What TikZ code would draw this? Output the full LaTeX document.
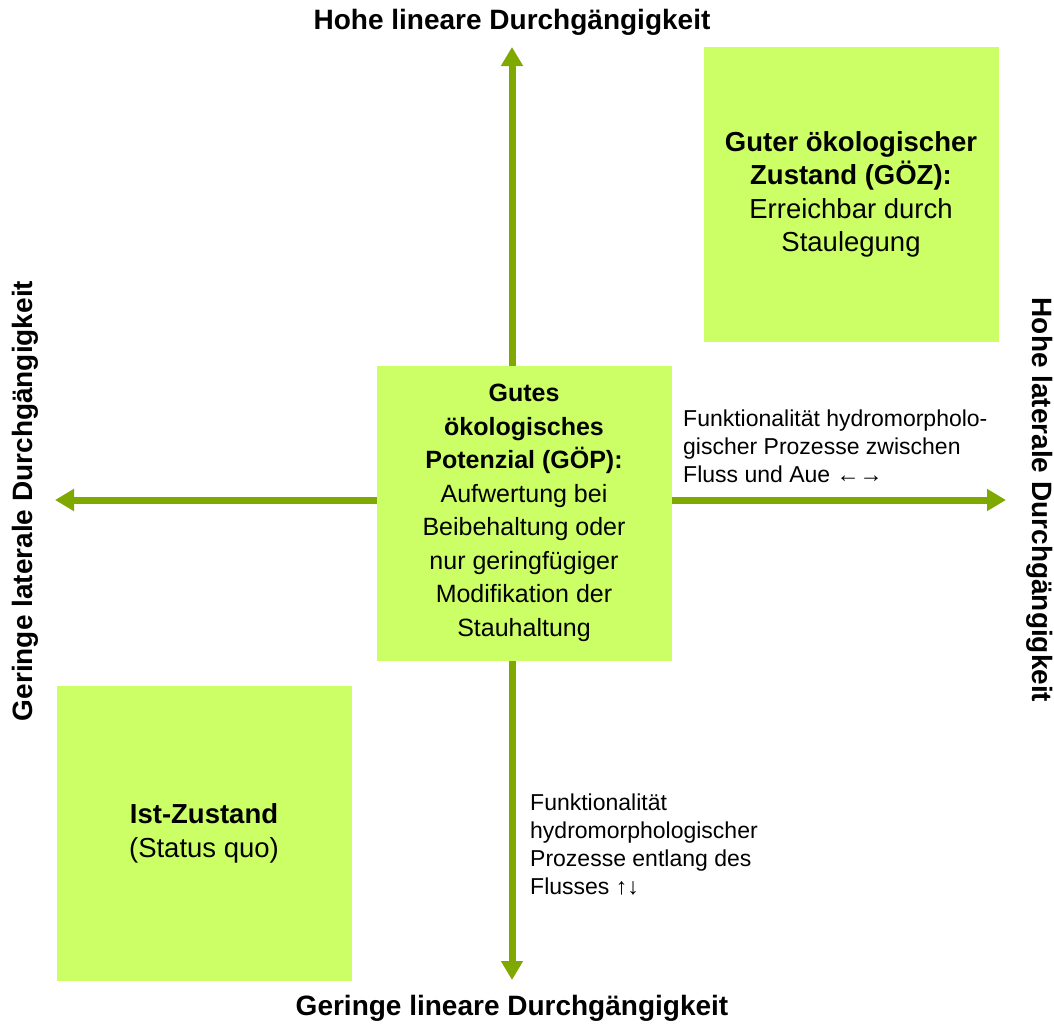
\documentclass[tikz,border=0pt]{standalone}
\usepackage{fontspec}
\setmainfont{Liberation Sans}
\usetikzlibrary{arrows.meta}
\definecolor{axisgreen}{RGB}{127,168,0}
\definecolor{boxgreen}{RGB}{204,255,102}
\tikzset{
  axis/.style={draw=axisgreen, line width=7pt,
    {Triangle[width=21pt,length=19pt]}-{Triangle[width=21pt,length=19pt]}},
  field/.style={fill=boxgreen, draw=none, minimum width=295pt, minimum height=295pt,
    align=center, inner sep=0pt, font=\fontsize{27.5}{33.5}\selectfont},
  axislabel/.style={font=\fontsize{28}{32}\selectfont\bfseries, inner sep=0pt},
  note/.style={font=\fontsize{23}{28}\selectfont, align=left, inner sep=0pt, anchor=north west}
}
\begin{document}
\begin{tikzpicture}[x=1pt, y=-1pt]
  \useasboundingbox (0,0) rectangle (1054,1026);
  % axis end points
  \coordinate (ytop) at (512,47);
  \coordinate (ybot) at (512,980);
  \coordinate (xleft) at (55,500);
  \coordinate (xright) at (1006,500);
  \draw[axis] (ybot) -- (ytop);
  \draw[axis] (xleft) -- (xright);
  % quadrant fields
  \node[field, font=\fontsize{25}{33.5}\selectfont] (goep) at (524,513) {\textbf{Gutes}\\\textbf{ökologisches}\\\textbf{Potenzial (GÖP):}\\Aufwertung bei\\Beibehaltung oder\\nur geringfügiger\\Modifikation der\\Stauhaltung};
  \node[field] (goez) at (851,194.5) {\textbf{Guter ökologischer}\\\textbf{Zustand (GÖZ):}\\Erreichbar durch\\Staulegung};
  \node[field] (ist) at (204,833.5) {\textbf{Ist-Zustand}\\(Status quo)};
  % axis labels
  \node[axislabel] (ltop) at (512,22) {Hohe lineare Durchgängigkeit};
  \node[axislabel] (lbot) at (512,1008) {Geringe lineare Durchgängigkeit};
  \node[axislabel, rotate=90] (lleft) at (25,501) {Geringe laterale Durchgängigkeit};
  \node[axislabel, rotate=-90] (lright) at (1040,500) {Hohe laterale Durchgängigkeit};
  % annotations
  \node[note] (nlat) at (683,410) {Funktionalität hydromorpholo-\\gischer Prozesse zwischen\\Fluss und Aue ←→};
  \node[note] (nlin) at (530,794) {Funktionalität\\hydromorphologischer\\Prozesse entlang des\\Flusses ↑↓};
\end{tikzpicture}
\end{document}
